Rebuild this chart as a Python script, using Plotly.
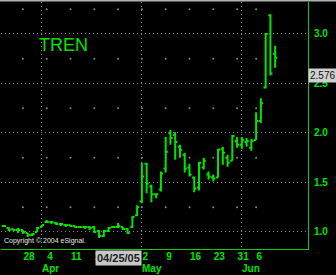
import plotly.graph_objects as go

# ---- data -------------------------------------------------------------
dates = [
    "2005-03-21", "2005-03-22", "2005-03-23", "2005-03-24", "2005-03-28",
    "2005-03-29", "2005-03-30", "2005-03-31", "2005-04-01", "2005-04-04",
    "2005-04-05", "2005-04-06", "2005-04-07", "2005-04-08", "2005-04-11",
    "2005-04-12", "2005-04-13", "2005-04-14", "2005-04-15", "2005-04-18",
    "2005-04-19", "2005-04-20", "2005-04-21", "2005-04-22", "2005-04-25",
    "2005-04-26", "2005-04-27", "2005-04-28", "2005-04-29", "2005-05-02",
    "2005-05-03", "2005-05-04", "2005-05-05", "2005-05-06", "2005-05-09",
    "2005-05-10", "2005-05-11", "2005-05-12", "2005-05-13", "2005-05-16",
    "2005-05-17", "2005-05-18", "2005-05-19", "2005-05-20", "2005-05-23",
    "2005-05-24", "2005-05-25", "2005-05-26", "2005-05-27", "2005-05-31",
    "2005-06-01", "2005-06-02", "2005-06-03", "2005-06-06", "2005-06-07",
    "2005-06-08", "2005-06-09", "2005-06-10",
]
opens = [1.06, 1.04, 1.03, 1.02, 1.02, 0.99, 0.97, 1.00, 1.05, 1.10,
         1.10, 1.09, 1.08, 1.07, 1.07, 1.06, 1.05, 1.05, 1.05, 1.05,
         1.01, 0.96, 1.01, 1.05, 1.05, 1.05, 1.03, 1.05, 1.17, 1.31,
         1.69, 1.46, 1.38, 1.43, 1.64, 2.00, 1.98, 1.86, 1.78, 1.65,
         1.55, 1.45, 1.65, 1.58, 1.55, 1.55, 1.84, 1.75, 1.72, 1.92,
         1.88, 1.91, 1.85, 1.93, 2.12, 2.46, 3.19, 2.80]
highs = [1.07, 1.05, 1.03, 1.04, 1.02, 0.99, 0.99, 1.05, 1.07, 1.12,
         1.11, 1.10, 1.09, 1.08, 1.07, 1.06, 1.06, 1.06, 1.06, 1.06,
         1.02, 1.02, 1.05, 1.06, 1.09, 1.05, 1.04, 1.16, 1.27, 1.70,
         1.70, 1.48, 1.39, 1.61, 1.96, 2.03, 2.01, 1.88, 1.80, 1.69,
         1.56, 1.71, 1.75, 1.61, 1.58, 1.84, 1.86, 1.78, 1.98, 1.96,
         1.96, 1.95, 1.94, 2.21, 2.35, 3.01, 3.20, 2.88]
lows = [1.05, 1.01, 1.01, 0.99, 0.98, 0.95, 0.96, 1.00, 1.05, 1.09,
        1.08, 1.07, 1.06, 1.05, 1.05, 1.04, 1.04, 1.03, 1.02, 0.99,
        0.94, 0.95, 1.00, 1.04, 1.04, 1.02, 0.98, 1.04, 1.16, 1.29,
        1.39, 1.30, 1.34, 1.41, 1.60, 1.88, 1.73, 1.75, 1.60, 1.56,
        1.40, 1.42, 1.63, 1.53, 1.51, 1.55, 1.68, 1.66, 1.72, 1.85,
        1.84, 1.86, 1.82, 1.93, 2.10, 2.45, 2.58, 2.66]
closes = [1.06, 1.02, 1.02, 1.02, 1.00, 0.97, 0.98, 1.04, 1.07, 1.10,
          1.10, 1.08, 1.08, 1.07, 1.06, 1.05, 1.05, 1.05, 1.04, 1.00,
          0.96, 1.01, 1.04, 1.05, 1.06, 1.03, 0.99, 1.15, 1.25, 1.56,
          1.49, 1.38, 1.38, 1.59, 1.81, 1.95, 1.91, 1.83, 1.64, 1.58,
          1.44, 1.70, 1.72, 1.56, 1.54, 1.83, 1.80, 1.70, 1.97, 1.88,
          1.93, 1.92, 1.92, 2.12, 2.30, 3.00, 2.60, 2.76]

tick_dates = ["2005-03-28", "2005-04-04", "2005-04-11", "2005-04-18",
              "2005-04-25", "2005-05-02", "2005-05-09", "2005-05-16",
              "2005-05-23", "2005-05-31", "2005-06-06"]
tick_text = ["28", "4", "11", "18", "25", "2", "9", "16", "23", "31", "6"]
month_dates = ["2005-04-01", "2005-05-02", "2005-06-01"]
month_text = ["Apr", "May", "Jun"]
y_ticks = [1.0, 1.5, 2.0, 2.5, 3.0]
y_minor = [1.25, 1.75, 2.25, 2.75, 3.25]
symbol = "TREN"
cursor_date = "2005-04-25"
cursor_label = "04/25/05"
cursor_price = 2.576

# ---- figure -----------------------------------------------------------
pos = {d: i for i, d in enumerate(dates)}
xs = list(range(len(dates)))
tickvals = [pos[d] for d in tick_dates]
monthvals = [pos[d] for d in month_dates]

GREEN = "#00e400"
AXIS_GREEN = "#10c810"
GRID = "#858585"
DOTS = "1px,3px"
LABEL_FONT = dict(family="Liberation Sans", size=10, color=GREEN, weight="bold")

fig = go.Figure()

# dotted intersection grid (weekly x ticks x quarter values)
gx, gy = [], []
for tv in tickvals:
    for yv in y_minor:
        gx.append(tv)
        gy.append(yv)
fig.add_trace(go.Scatter(x=gx, y=gy, mode="markers",
                         marker=dict(size=2, color=GRID, line=dict(width=0)),
                         hoverinfo="skip", showlegend=False))

fig.add_trace(go.Ohlc(
    x=xs, open=opens, high=highs, low=lows, close=closes,
    increasing=dict(line=dict(color=GREEN, width=2)),
    decreasing=dict(line=dict(color=GREEN, width=2)),
    tickwidth=0.45, hoverinfo="skip", showlegend=False,
))

annotations = []
annotations.append(dict(text=symbol, xref="paper", yref="paper", x=0.117, y=0.826,
                        xanchor="left", yanchor="middle", showarrow=False,
                        font=dict(family="Liberation Sans", size=18, color=GREEN)))
annotations.append(dict(text="Copyright © 2004 eSignal.", xref="paper", yref="paper",
                        x=0, y=0, xanchor="left", yanchor="bottom", xshift=1, yshift=2,
                        showarrow=False,
                        font=dict(family="Liberation Sans", size=7, color="#e8e8e8")))
for mv, mt in zip(monthvals, month_text):
    annotations.append(dict(text=mt, x=mv, xref="x", yref="paper", y=0,
                            xanchor="left", yanchor="top", yshift=-13, xshift=-1,
                            borderpad=0, showarrow=False, font=LABEL_FONT))
annotations.append(dict(text="<b>" + cursor_label + "</b>", x=pos[cursor_date], xref="x",
                        yref="paper", y=0, xanchor="center", yanchor="top", yshift=-1,
                        showarrow=False, bgcolor="#c8c8c8", borderpad=1,
                        font=dict(family="Liberation Sans", size=11, color="#202020")))
annotations.append(dict(text=f"{cursor_price:.3f}", xref="paper", x=1, y=cursor_price,
                        yref="y", xanchor="left", yanchor="middle", xshift=0,
                        showarrow=False, bgcolor="#d0d0d0", borderpad=1,
                        font=dict(family="Liberation Sans", size=10, color="#101010")))

fig.update_layout(
    width=336, height=275,
    margin=dict(l=1, r=28, t=2, b=26),
    paper_bgcolor="black", plot_bgcolor="black",
    showlegend=False,
    annotations=annotations,
    xaxis=dict(
        range=[-0.6, 63.9], rangeslider=dict(visible=False),
        tickmode="array", tickvals=tickvals, ticktext=tick_text,
        ticklabelposition="outside right", ticklabelstandoff=-2,
        tickfont=LABEL_FONT,
        showgrid=False, zeroline=False,
        showline=True, linecolor=AXIS_GREEN, linewidth=1,
        ticks="", fixedrange=True,
        minor=dict(tickmode="array", tickvals=monthvals, showgrid=True,
                   gridcolor=GRID, griddash=DOTS, gridwidth=1, ticks=""),
    ),
    yaxis=dict(
        side="right", range=[0.828, 3.323],
        tickmode="array", tickvals=y_ticks, tickformat=".1f",
        tickfont=LABEL_FONT,
        showgrid=True, gridcolor=GRID, griddash=DOTS, gridwidth=1,
        zeroline=False, showline=True, linecolor=AXIS_GREEN, linewidth=1,
        ticks="", ticklabelstandoff=3, fixedrange=True,
    ),
    shapes=[
        dict(type="line", xref="paper", yref="paper", x0=-0.01, x1=1.1,
             y0=1.006, y1=1.006, line=dict(color="#b0b0b0", width=2)),
    ],
)

fig.write_html("out.html", config={"displayModeBar": False})
